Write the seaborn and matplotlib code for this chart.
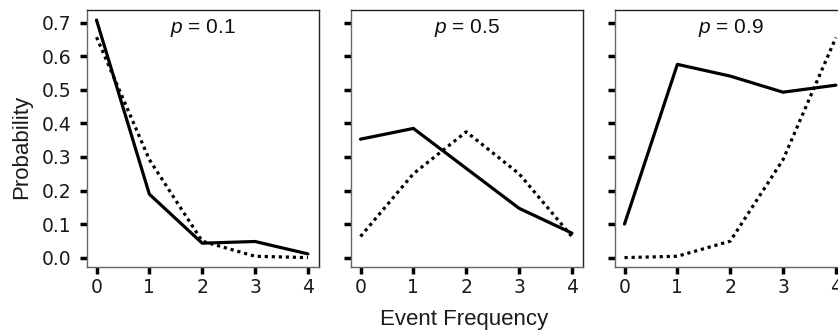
import numpy as np
import pandas as pd
import seaborn as sns
import matplotlib
matplotlib.use("Agg")
import matplotlib.pyplot as plt

# Values
events = [0, 1, 2, 3, 4]
p_labels = ["0.1", "0.5", "0.9"]
observed_01 = [0.708, 0.189, 0.043, 0.048, 0.011]
expected_01 = [0.657, 0.292, 0.049, 0.004, 0.0]
observed_05 = [0.353, 0.385, 0.266, 0.147, 0.073]
expected_05 = [0.063, 0.250, 0.375, 0.250, 0.063]
observed_09 = [0.100, 0.576, 0.541, 0.493, 0.514]
expected_09 = [0.0, 0.004, 0.049, 0.292, 0.656]

observed = [observed_01, observed_05, observed_09]
expected = [expected_01, expected_05, expected_09]

sns.set_theme(style="ticks")
plt.rcParams["font.family"] = ["Liberation Sans", "DejaVu Sans"]
plt.rcParams["mathtext.fontset"] = "custom"
plt.rcParams["mathtext.it"] = "Liberation Sans:italic"
plt.rcParams["mathtext.rm"] = "Liberation Sans"

fig = plt.figure(figsize=(8.38, 3.36), dpi=100)
lefts = [87 / 838, 351 / 838, 615 / 838]
width = 232 / 838
bottom = 1 - 267 / 336
height = 257 / 336

for i, (p, obs, exp) in enumerate(zip(p_labels, observed, expected)):
    ax = fig.add_axes([lefts[i], bottom, width, height])
    df = pd.DataFrame({"x": events, "obs": obs, "exp": exp})
    sns.lineplot(data=df, x="x", y="exp", ax=ax, color="black", lw=2.3,
                 linestyle=(0, (1, 1.2)))
    sns.lineplot(data=df, x="x", y="obs", ax=ax, color="black", lw=2.3)
    ax.set_xlim(-0.18, 4.21)
    ax.set_ylim(-0.028, 0.738)
    ax.set_xticks(events)
    ax.set_yticks(np.arange(0, 0.71, 0.1))
    if i == 0:
        ax.set_yticklabels([f"{v:.1f}" for v in np.arange(0, 0.71, 0.1)])
    else:
        ax.set_yticklabels([])
    ax.set_xlabel("")
    ax.set_ylabel("")
    ax.tick_params(axis="both", direction="out", length=5, width=2.5,
                   color="black", labelsize=13.5, labelcolor="#1a1a1a")
    ax.tick_params(axis="y", pad=6)
    ax.tick_params(axis="x", pad=3)
    for lab in ax.get_xticklabels() + ax.get_yticklabels():
        lab.set_fontfamily("DejaVu Sans")
    for side, sp in ax.spines.items():
        sp.set_linewidth(1.0)
        sp.set_color("#222222" if side in ("top", "right") else "#666666")
    ax.text(0.5, 0.93, f"$p$ = {p}", transform=ax.transAxes, ha="center",
            va="center", fontsize=15, color="#111111")

fig.text(22 / 838, 1 - 147 / 336, "Probability", rotation=90, ha="center",
         va="center", fontsize=16, color="#1a1a1a")
fig.text(464 / 838, 1 - 319 / 336, "Event Frequency", ha="center",
         va="center", fontsize=16, color="#1a1a1a")

fig.savefig("out.png", dpi=100)
